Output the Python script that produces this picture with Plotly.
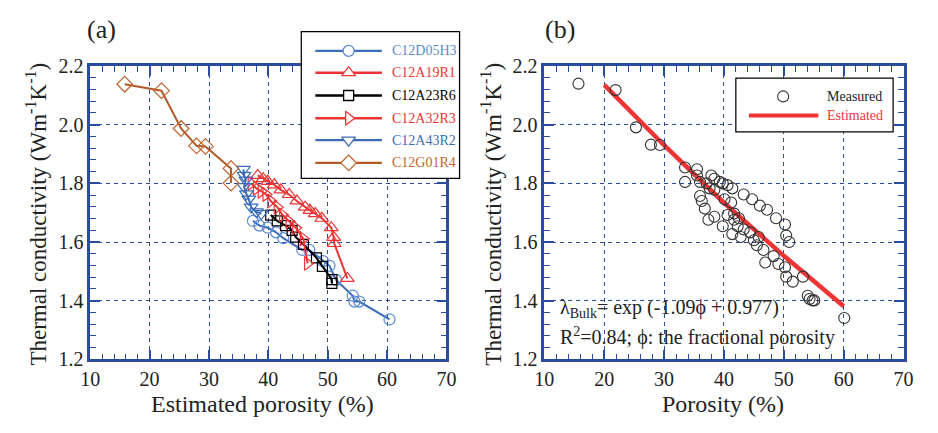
import plotly.graph_objects as go

# ---------------- Panel (a) data: estimated porosity (%) vs thermal conductivity ----------------
series_names = ["C12D05H3", "C12A19R1", "C12A23R6", "C12A32R3", "C12A43R2", "C12G01R4"]

d05h3_por = [37.4, 38.5, 39.9, 41.3, 42.5, 45.7, 46.9, 49.2, 50.3, 51.4, 54.2, 54.5, 55.3, 60.4]
d05h3_tc = [1.672, 1.656, 1.649, 1.633, 1.613, 1.573, 1.573, 1.535, 1.519, 1.471, 1.417, 1.397, 1.397, 1.336]

a19r1_por = [38.2, 39.1, 39.9, 41.0, 42.1, 43.5, 44.8, 46.2, 47.0, 47.9, 49.0, 50.6, 51.0, 51.1, 53.3]
a19r1_tc = [1.827, 1.816, 1.807, 1.795, 1.778, 1.762, 1.740, 1.719, 1.708, 1.697, 1.681, 1.649, 1.616, 1.595, 1.476]

a23r6_por = [40.4, 41.5, 42.9, 44.0, 44.6, 45.9, 48.1, 49.1, 50.7, 50.7]
a23r6_tc = [1.692, 1.672, 1.656, 1.640, 1.617, 1.592, 1.546, 1.517, 1.472, 1.459]

a32r3_por = [37.1, 38.0, 38.8, 39.6, 40.4, 41.5, 42.4, 43.5, 44.6, 45.9, 46.6]
a32r3_tc = [1.800, 1.783, 1.773, 1.762, 1.740, 1.719, 1.692, 1.670, 1.649, 1.611, 1.527]

a43r2_por = [35.8, 35.9, 36.2, 35.9, 36.3, 36.7, 37.1, 38.0, 38.8]
a43r2_tc = [1.848, 1.827, 1.811, 1.789, 1.764, 1.746, 1.719, 1.703, 1.697]

g01r4_por = [15.8, 22.0, 25.3, 27.9, 29.4, 33.7, 33.7]
g01r4_tc = [2.138, 2.116, 1.987, 1.928, 1.926, 1.851, 1.801]

# ---------------- Panel (b) data: measured porosity (%) vs thermal conductivity ----------------
meas_por = [15.7, 21.9, 25.3, 27.8, 29.3, 33.5, 33.5, 35.5, 35.5, 36.0, 36.0, 36.3, 36.8, 37.1,
            37.9, 38.4, 37.6, 38.4, 39.3, 39.8, 40.6, 41.4, 40.1, 41.2, 38.4, 37.4, 39.8, 40.6,
            41.7, 42.5, 41.7, 42.3, 41.4, 43.3, 44.4, 42.8, 45.0, 45.8, 45.5, 46.6, 46.9, 48.3,
            49.1, 50.2, 50.4, 51.5, 53.2, 54.0, 54.8, 54.3, 55.1, 43.3, 44.7, 46.0, 47.2, 48.7,
            50.2, 50.4, 50.9, 60.1]
meas_tc = [2.140, 2.118, 1.991, 1.932, 1.931, 1.854, 1.805, 1.848, 1.827, 1.805, 1.757, 1.740,
           1.714, 1.800, 1.827, 1.816, 1.783, 1.778, 1.805, 1.800, 1.794, 1.783, 1.746, 1.735,
           1.686, 1.676, 1.654, 1.692, 1.697, 1.681, 1.676, 1.654, 1.627, 1.643, 1.633, 1.617,
           1.606, 1.617, 1.589, 1.573, 1.530, 1.552, 1.525, 1.514, 1.482, 1.465, 1.482, 1.417,
           1.401, 1.406, 1.401, 1.762, 1.746, 1.724, 1.710, 1.681, 1.660, 1.622, 1.600, 1.341]

est_por = [20, 30, 40, 50, 60]
est_tc = [2.136, 1.930, 1.734, 1.553, 1.381]

legend_b_names = ["Measured", "Estimated"]

# ---------------- styling ----------------
W, H = 938, 433
AX = "#2b4c9e"
FONT = "Liberation Serif, Times New Roman, serif"
TXT = "#222222"
BLUE_M = "#5b8bd3"
BLUE_L = "#3d6db8"
RED = "#ee3535"
BLACK = "#000000"
BROWN = "#c0652f"
BROWN_L = "#b35b27"

def px_x(p):
    return p / W

def px_y(p):
    return 1 - p / H

fig = go.Figure()

styles = [
    (d05h3_por, d05h3_tc, "circle-open", BLUE_M, BLUE_L, 11),
    (a19r1_por, a19r1_tc, "triangle-up-open", RED, RED, 12),
    (a23r6_por, a23r6_tc, "square-open", BLACK, BLACK, 10),
    (a32r3_por, a32r3_tc, "triangle-right-open", RED, RED, 12),
    (a43r2_por, a43r2_tc, "triangle-down-open", BLUE_L, BLUE_L, 12),
    (g01r4_por, g01r4_tc, "diamond-open", BROWN, BROWN_L, 12),
]

for (xs, ys, sym, mc, lc, sz), name in zip(styles, series_names):
    fig.add_trace(go.Scatter(
        x=xs, y=ys, mode="lines+markers", name=name, showlegend=False,
        line=dict(color=lc, width=2),
        marker=dict(symbol=sym, size=sz, color=mc, line=dict(width=1.2, color=mc)),
        xaxis="x", yaxis="y"))

fig.add_trace(go.Scatter(
    x=est_por, y=est_tc, mode="lines", name="Estimated", showlegend=False,
    line=dict(color=RED, width=4.5), xaxis="x2", yaxis="y2"))
fig.add_trace(go.Scatter(
    x=meas_por, y=meas_tc, mode="markers", name="Measured", showlegend=False,
    marker=dict(symbol="circle-open", size=11, color="#333333", line=dict(width=1.1, color="#333333")),
    xaxis="x2", yaxis="y2"))

# ---------------- custom legend boxes (white-filled traces on their own overlay axes) ----------------
box_a_w, box_a_h = 163, 156
box_b_w, box_b_h = 162, 58
for ax, ya, bw, bh in [("x3", "y3", box_a_w, box_a_h), ("x4", "y4", box_b_w, box_b_h)]:
    fig.add_trace(go.Scatter(x=[0, bw, bw, 0, 0], y=[0, 0, bh, bh, 0], mode="lines", fill="toself",
                             fillcolor="white", line=dict(color="black", width=2.5),
                             showlegend=False, hoverinfo="skip", xaxis=ax, yaxis=ya))

# legend (a)
leg_a_rows = [21, 44, 68, 92, 115, 139]
for (xs, ys, sym, mc, lc, sz), name, ry in zip(styles, series_names, leg_a_rows):
    fig.add_trace(go.Scatter(x=[15, 83], y=[ry, ry], mode="lines", showlegend=False,
                             line=dict(color=lc, width=2.4), xaxis="x3", yaxis="y3", hoverinfo="skip"))
    fig.add_trace(go.Scatter(x=[49], y=[ry], mode="markers", showlegend=False,
                             marker=dict(symbol=sym.replace("-open", ""), size=sz, color="white",
                                         line=dict(width=1.3, color=mc)),
                             xaxis="x3", yaxis="y3", hoverinfo="skip"))
    fig.add_annotation(x=91, y=ry, xref="x3", yref="y3", text=name, showarrow=False,
                       xanchor="left", yanchor="middle", font=dict(family=FONT, size=14, color=mc))

# legend (b)
fig.add_trace(go.Scatter(x=[49], y=[20], mode="markers", showlegend=False,
                         marker=dict(symbol="circle-open", size=11, color="#333333", line=dict(width=1.1)),
                         xaxis="x4", yaxis="y4", hoverinfo="skip"))
fig.add_trace(go.Scatter(x=[14, 85], y=[40, 40], mode="lines", showlegend=False,
                         line=dict(color=RED, width=4), xaxis="x4", yaxis="y4", hoverinfo="skip"))
for name, ry, col in zip(legend_b_names, [20, 40], [TXT, RED]):
    fig.add_annotation(x=92, y=ry, xref="x4", yref="y4", text=name, showarrow=False,
                       xanchor="left", yanchor="middle", font=dict(family=FONT, size=14, color=col))

axis_common = dict(
    showline=True, linecolor=AX, linewidth=2.5, mirror="allticks",
    ticks="inside", ticklen=10, tickwidth=1.5, tickcolor=AX,
    showgrid=True, gridcolor=AX, gridwidth=1.2, griddash="4px,4px",
    zeroline=False, tickfont=dict(family=FONT, size=20, color=TXT),
)
xcommon = dict(axis_common, range=[10, 70], tick0=10, dtick=10,
               minor=dict(ticks="inside", dtick=2, ticklen=6, tickwidth=1.3, tickcolor=AX, showgrid=False))
ycommon = dict(axis_common, range=[1.2, 2.2], tick0=1.2, dtick=0.2, tickformat=".1f",
               minor=dict(ticks="inside", dtick=0.04, ticklen=6, tickwidth=1.3, tickcolor=AX, showgrid=False))

hidden = dict(visible=False, showgrid=False, zeroline=False, fixedrange=True)

fig.update_layout(
    width=W, height=H,
    margin=dict(l=0, r=0, t=0, b=0),
    paper_bgcolor="white", plot_bgcolor="rgba(0,0,0,0)",
    showlegend=False,
    xaxis=dict(xcommon, domain=[px_x(82), px_x(446)], anchor="y"),
    yaxis=dict(ycommon, domain=[px_y(367), px_y(58)], anchor="x"),
    xaxis2=dict(xcommon, domain=[px_x(546), px_x(913)], anchor="y2"),
    yaxis2=dict(ycommon, domain=[px_y(367), px_y(58)], anchor="x2"),
    xaxis3=dict(hidden, domain=[px_x(297), px_x(460)], range=[0, box_a_w], anchor="y3"),
    yaxis3=dict(hidden, domain=[px_y(177), px_y(21)], range=[box_a_h, 0], anchor="x3"),
    xaxis4=dict(hidden, domain=[px_x(741), px_x(903)], range=[0, box_b_w], anchor="y4"),
    yaxis4=dict(hidden, domain=[px_y(128), px_y(70)], range=[box_b_h, 0], anchor="x4"),
)

# axis titles and panel labels
ytitle = "Thermal conductivity (Wm<sup>-1</sup>K<sup>-1</sup>)"
annots = [
    dict(x=px_x(258), y=px_y(414), text="Estimated porosity (%)", size=24, angle=0),
    dict(x=px_x(729), y=px_y(414), text="Porosity (%)", size=24, angle=0),
    dict(x=px_x(27), y=px_y(214), text=ytitle, size=23, angle=-90),
    dict(x=px_x(492), y=px_y(214), text=ytitle, size=23, angle=-90),
    dict(x=px_x(94), y=px_y(19), text="(a)", size=26, angle=0),
    dict(x=px_x(562), y=px_y(19), text="(b)", size=26, angle=0),
]
for a in annots:
    fig.add_annotation(x=a["x"], y=a["y"], xref="paper", yref="paper", text=a["text"],
                       showarrow=False, textangle=a["angle"], xanchor="center", yanchor="middle",
                       font=dict(family=FONT, size=a["size"], color=TXT))

fig.add_annotation(x=px_x(560), y=px_y(313), xref="paper", yref="paper",
                   text="λ<sub>Bulk</sub>= exp (-1.09ϕ + 0.977)", showarrow=False,
                   xanchor="left", yanchor="middle", font=dict(family=FONT, size=20, color=TXT))
fig.add_annotation(x=px_x(560), y=px_y(343), xref="paper", yref="paper",
                   text="R<sup>2</sup>=0.84; ϕ: the fractional porosity", showarrow=False,
                   xanchor="left", yanchor="middle", font=dict(family=FONT, size=20, color=TXT))

fig.write_html("out.html", config={"displayModeBar": False},
               post_script="document.body.style.margin='0';document.body.style.padding='0';")
